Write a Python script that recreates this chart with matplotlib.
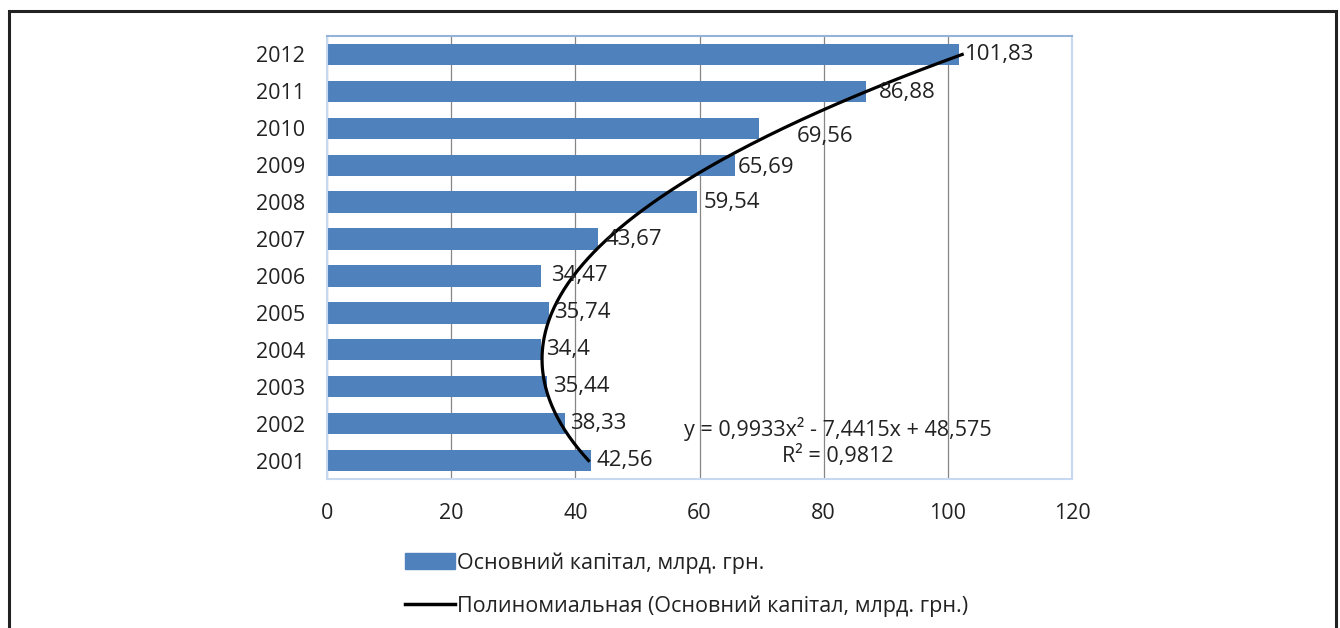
import numpy as np
import matplotlib.pyplot as plt
from matplotlib.patches import Rectangle
from matplotlib.lines import Line2D

plt.rcParams['font.family'] = ['Open Sans', 'DejaVu Sans']

years = ['2001', '2002', '2003', '2004', '2005', '2006',
         '2007', '2008', '2009', '2010', '2011', '2012']
values = [42.56, 38.33, 35.44, 34.4, 35.74, 34.47,
          43.67, 59.54, 65.69, 69.56, 86.88, 101.83]
labels = ['42,56', '38,33', '35,44', '34,4', '35,74', '34,47',
          '43,67', '59,54', '65,69', '69,56', '86,88', '101,83']
series_name = 'Основний капітал, млрд. грн.'
trend_name = 'Полиномиальная (Основний капітал, млрд. грн.)'
eq_text = 'y = 0,9933x² - 7,4415x + 48,575\nR² = 0,9812'

# label offsets in points (a couple were nudged in the original)
offsets = [(4, 0), (4, 0), (4, 0), (4, 0), (4, 0), (7, 0),
           (5, 0), (5, 0), (2, -2), (27, -6), (9, -1), (4, 0)]

fig = plt.figure(figsize=(13.4, 6.28), dpi=100)
ax = fig.add_axes([327 / 1340, 1 - 479 / 628, 745 / 1340, 443 / 628])

pos = np.arange(len(years))
ax.barh(pos, values, height=0.58, color='#4f81bd', zorder=2, label=series_name)

# 2nd order trendline fitted on the data (x = 1..12)
t = np.arange(1, len(values) + 1)
coef = np.polyfit(t, values, 2)
tt = np.linspace(1, len(values), 200)
ax.plot(np.polyval(coef, tt), tt - 1, color='black', lw=2.3, zorder=3,
        label=trend_name)

for p, v, s, off in zip(pos, values, labels, offsets):
    ax.annotate(s, (v, p), xytext=off, textcoords='offset points',
                ha='left', va='center', fontsize=16, color='#222222')

ax.text(0.686, 0.083, eq_text, transform=ax.transAxes, ha='center', va='center',
        fontsize=15.5, color='#222222', linespacing=1.25)

ax.set_xlim(0, 120)
ax.set_ylim(-0.5, len(years) - 0.5)
ax.set_xticks(np.arange(0, 121, 20))
ax.set_yticks(pos)
ax.set_yticklabels(years)
ax.tick_params(length=0, labelsize=15.5, colors='#222222')
ax.tick_params(axis='x', pad=17)
ax.tick_params(axis='y', pad=16)
ax.grid(axis='x', color='#868686', lw=0.9, zorder=1)
for side in ['left', 'bottom', 'right']:
    ax.spines[side].set_color('#c6d9f1')
    ax.spines[side].set_linewidth(1.5)
ax.spines['top'].set_color('#95b3d7')
ax.spines['top'].set_linewidth(1.5)

handles = [Rectangle((0, 0), 1, 1, color='#4f81bd'),
           Line2D([0], [0], color='black', lw=2.5)]
fig.legend(handles, [series_name, trend_name], loc='upper left',
           bbox_to_anchor=(386 / 1340, 1 - 533 / 628), frameon=False,
           fontsize=15.5, handlelength=2.3, handleheight=0.75, handletextpad=0.1,
           labelspacing=1.0, labelcolor='#222222')

# outer frame (bottom edge cut off)
fig.add_artist(Rectangle((9 / 1340, -0.2), 1327 / 1340, 1.2 - 11 / 628,
                         transform=fig.transFigure, fill=False,
                         edgecolor='#222222', lw=2.2))

fig.savefig('out.png', dpi=100)
